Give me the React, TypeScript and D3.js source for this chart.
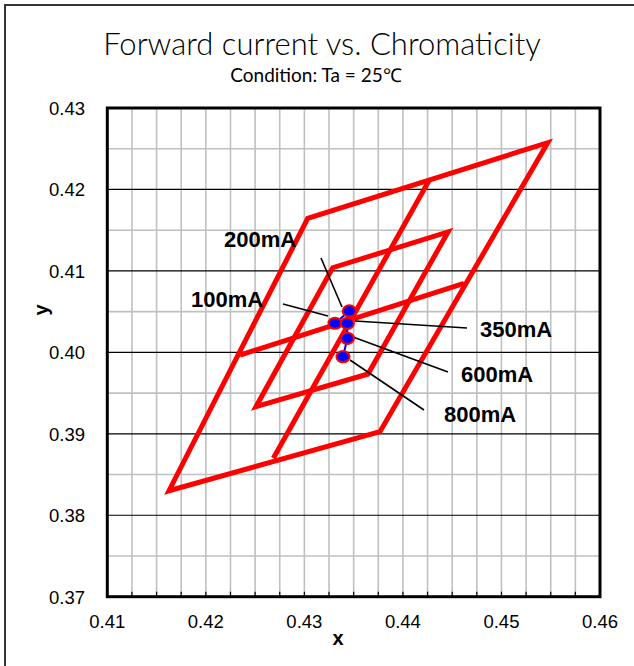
import * as React from "react";
import * as d3 from "d3";

// chromaticity bin outlines (x, y)
const outerBin: [number, number][] = [
  [0.41626, 0.38301],
  [0.43767, 0.39026],
  [0.45469, 0.42574],
  [0.43034, 0.41646],
];
const innerBin: [number, number][] = [
  [0.42509, 0.39333],
  [0.43646, 0.39734],
  [0.44458, 0.41478],
  [0.43287, 0.41039],
];
const centerLines: [number, number][][] = [
  [
    [0.42347, 0.39967],
    [0.4462, 0.40848],
  ],
  [
    [0.42685, 0.38699],
    [0.44268, 0.42116],
  ],
];

// measured points
const currents = ["100mA", "200mA", "350mA", "600mA", "800mA"];
const chromX = [0.43311, 0.43456, 0.43436, 0.43436, 0.43392];
const chromY = [0.40357, 0.40508, 0.40357, 0.40172, 0.39947];

const xTicks = [0.41, 0.42, 0.43, 0.44, 0.45, 0.46];
const yTicks = [0.37, 0.38, 0.39, 0.4, 0.41, 0.42, 0.43];

// label placement (pixels): text left/baseline, leader end
const labelLayout: Record<string, { tx: number; ty: number; lx: number; ly: number; sx: number; sy: number }> = {
  "100mA": { tx: 191, ty: 307, lx: 283, ly: 304, sx: 328, sy: 316 },
  "200mA": { tx: 224, ty: 247, lx: 321, ly: 258, sx: 342, sy: 307 },
  "350mA": { tx: 480, ty: 337, lx: 467, ly: 328, sx: 355, sy: 321 },
  "600mA": { tx: 461, ty: 382, lx: 448, ly: 372, sx: 353, sy: 337 },
  "800mA": { tx: 444, ty: 422, lx: 424, ly: 410, sx: 350, sy: 360 },
};

export default function App() {
  const width = 634;
  const height = 666;
  const left = 107.3;
  const right = 600;
  const top = 108;
  const bottom = 596.7;

  const x = d3.scaleLinear().domain([0.41, 0.46]).range([left, right]);
  const y = d3.scaleLinear().domain([0.37, 0.43]).range([bottom, top]);

  const vGrid = d3.range(0.41, 0.46001, 0.0025);
  const hMinor = d3.range(0.375, 0.43, 0.01);

  const line = d3
    .line<[number, number]>()
    .x((d) => x(d[0]))
    .y((d) => y(d[1]));

  const pts: [number, number][] = chromX.map((v, i) => [v, chromY[i]]);
  const sans = '"Liberation Sans", Arial, sans-serif';

  return (
    <svg
      width={width}
      height={height}
      style={{ position: "absolute", left: 0, top: 0, background: "#fff" }}
    >
      <rect x={5} y={5} width={width + 10} height={height + 10} fill="#fff" stroke="#333" strokeWidth={2} />

      <text x={322} y={55} textAnchor="middle" fontFamily="Lato, sans-serif" fontWeight={300} fontSize={31} fill="#000">
        Forward current vs. Chromaticity
      </text>
      <text x={316} y={82} textAnchor="middle" fontFamily="Lato, sans-serif" fontSize={19} fill="#000">
        Condition: Ta = 25℃
      </text>

      {/* grid */}
      {vGrid.map((v, i) => (
        <line key={"v" + i} x1={x(v)} x2={x(v)} y1={top} y2={bottom} stroke="#c0c0c0" strokeWidth={1.6} />
      ))}
      {hMinor.map((v, i) => (
        <line key={"hm" + i} x1={left} x2={right} y1={y(v)} y2={y(v)} stroke="#c0c0c0" strokeWidth={1.6} />
      ))}
      {yTicks.map((v, i) => (
        <line key={"hM" + i} x1={left} x2={right} y1={y(v)} y2={y(v)} stroke="#000" strokeWidth={1.2} />
      ))}
      {vGrid.map((v, i) => (
        <line key={"t" + i} x1={x(v)} x2={x(v)} y1={bottom - 5} y2={bottom} stroke="#000" strokeWidth={1.2} />
      ))}
      <rect x={left} y={top} width={right - left} height={bottom - top} fill="none" stroke="#000" strokeWidth={3} />

      {/* tick labels */}
      {xTicks.map((v) => (
        <text key={"xl" + v} x={x(v)} y={628} textAnchor="middle" fontFamily={sans} fontSize={18.5} fill="#000">
          {v.toFixed(2)}
        </text>
      ))}
      {yTicks.map((v) => (
        <text key={"yl" + v} x={85} y={y(v) + 7} textAnchor="end" fontFamily={sans} fontSize={18.5} fill="#000">
          {v.toFixed(2)}
        </text>
      ))}
      <text x={338} y={645} textAnchor="middle" fontFamily={sans} fontWeight="bold" fontSize={20} fill="#000">
        x
      </text>
      <text
        transform="translate(48,310) rotate(-90)"
        textAnchor="middle"
        fontFamily={sans}
        fontWeight="bold"
        fontSize={20}
        fill="#000"
      >
        y
      </text>

      {/* bins */}
      <path d={line(outerBin)! + "Z"} fill="none" stroke="#ff0000" strokeWidth={5} strokeLinejoin="miter" />
      <path d={line(innerBin)! + "Z"} fill="none" stroke="#ff0000" strokeWidth={5} strokeLinejoin="miter" />
      {centerLines.map((seg, i) => (
        <path key={"c" + i} d={line(seg)!} fill="none" stroke="#ff0000" strokeWidth={5} />
      ))}

      {/* leaders and labels */}
      {currents.map((c) => {
        const l = labelLayout[c];
        return (
          <g key={"lab" + c}>
            <line x1={l.sx} y1={l.sy} x2={l.lx} y2={l.ly} stroke="#000" strokeWidth={1.6} />
            <text x={l.tx} y={l.ty} fontFamily={sans} fontWeight="bold" fontSize={22} fill="#000">
              {c}
            </text>
          </g>
        );
      })}

      {/* measured points */}
      <path d={line(pts)!} fill="none" stroke="#0000ff" strokeWidth={2} />
      {pts.map((p, i) => (
        <ellipse
          key={"p" + i}
          cx={x(p[0])}
          cy={y(p[1])}
          rx={6.6}
          ry={5.6}
          fill="#0000ff"
          stroke="#ff0000"
          strokeWidth={2}
        />
      ))}
    </svg>
  );
}
